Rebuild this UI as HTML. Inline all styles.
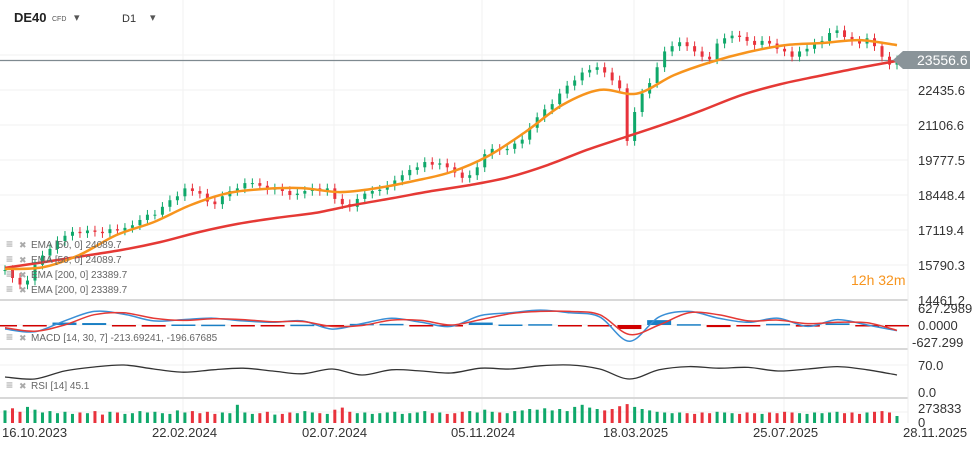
<!DOCTYPE html>
<html><head><meta charset="utf-8">
<style>
body{margin:0;background:#fff;font-family:"Liberation Sans",sans-serif;}
#wrap{position:relative;width:977px;height:449px;overflow:hidden;background:#fff;}
svg text{font-family:"Liberation Sans",sans-serif;}
</style></head>
<body>
<div id="wrap">
<svg id="chart" width="977" height="449"></svg>
</div>
<script>
// ---- data ----
const closes=[15600,15300,15050,15200,15800,16150,16400,16700,16900,17050,
17000,17100,17050,17000,17150,17100,17200,17300,17500,17700,
17700,18000,18250,18400,18700,18600,18500,18200,18100,18400,
18600,18700,18900,18900,18800,18650,18700,18600,18450,18500,
18600,18700,18600,18700,18300,18100,18000,18300,18500,18600,
18650,18800,19000,19200,19400,19500,19700,19600,19650,19500,
19300,19100,19200,19500,20000,20200,20150,20200,20400,20550,
21000,21400,21700,21900,22300,22600,22800,23100,23200,23300,
23100,22800,22500,20500,21600,22300,22700,23300,23900,24100,
24250,24100,23900,23700,23600,24200,24400,24500,24450,24300,
24150,24300,24200,24000,23900,23700,23900,24000,24200,24300,
24600,24700,24450,24300,24200,24400,24100,23700,23400,23560];
const ema50=[15640,15700,16170,16930,17420,18070,18520,18680,18710,18560,18710,18980,19320,19930,20840,21870,22440,22300,23000,23500,23880,24140,24220,24330,24140];
const ema200=[15680,15900,16130,16360,16660,17040,17350,17580,17770,18070,18330,18600,18830,19130,19590,20160,20650,21140,21680,22250,22660,22970,23270,23540];
const macd=[-150,-250,150,500,400,150,200,250,150,100,150,-150,50,250,100,-50,350,450,550,450,300,-600,300,500,250,100,250,-50,200,0,-210];
const signal=[-100,-230,0,380,450,250,170,230,200,120,130,-50,-20,180,170,0,200,420,500,500,380,-350,0,450,380,150,180,50,100,80,-197];
const rsi=[40,35,55,65,70,60,52,58,62,55,48,60,45,58,55,50,62,60,68,70,60,35,58,66,62,64,55,60,66,58,45];
const volume=[180,210,160,230,190,150,170,140,160,130,150,140,170,120,160,150,130,140,170,150,
160,140,130,180,150,170,140,160,130,150,140,260,150,130,140,160,120,130,150,140,
170,150,140,130,190,220,160,140,150,130,140,150,160,130,140,150,170,140,150,130,
140,160,170,150,190,160,150,140,170,180,200,190,210,180,200,170,230,260,220,200,
180,200,240,270,230,200,180,160,150,140,150,140,130,150,140,160,150,140,130,150,
140,130,150,140,160,150,140,130,150,140,150,160,140,150,130,150,160,170,150,100];
const priceTicks=[23764.7,22435.6,21106.6,19777.5,18448.4,17119.4,15790.3,14461.2];
const dateTicks=["16.10.2023","22.02.2024","02.07.2024","05.11.2024","18.03.2025","25.07.2025","28.11.2025"];
const macdTicks=["627.2989","0.0000","-627.299"];
const rsiTicks=["70.0","0.0"];
const lastPrice=23556.6;

const NS="http://www.w3.org/2000/svg";
const svg=document.getElementById('chart');
function el(tag,attrs,parent){const e=document.createElementNS(NS,tag);for(const k in attrs)e.setAttribute(k,attrs[k]);(parent||svg).appendChild(e);return e;}
const X0=5,X1=897;
const xi=(i,n)=>X0+(X1-X0)*i/(n-1);
const yP=p=>90-(p-22435.6)/1329.07*35;
const yM=v=>325-v*17/627.3;
const yR=v=>393-v*28/70;
const yV=v=>423-v*21/300;

// grid
const grid=el('g',{});

priceTicks.forEach(p=>el('line',{x1:0,x2:908,y1:yP(p),y2:yP(p),stroke:'#f0f0f0'},grid));
[183,334,482,634,784].forEach(x=>el('line',{x1:x,x2:x,y1:0,y2:423,stroke:'#f2f2f2'},grid));
[300,349,398].forEach(y=>el('line',{x1:0,x2:908,y1:y,y2:y,stroke:'#d8d8d8','stroke-width':2},grid));
el('line',{x1:908,x2:908,y1:0,y2:423,stroke:'#eeeeee'},grid);
[325,365,412].forEach(y=>el('line',{x1:0,x2:908,y1:y,y2:y,stroke:'#f0f0f0'},grid));

// last price line
const lp=el('line',{x1:0,x2:900,y1:yP(lastPrice),y2:yP(lastPrice),stroke:'#7f8a90','stroke-width':1.2});


// candles
const cg=el('g',{});

closes.forEach((c,i)=>{
  const o=i?closes[i-1]:c;const x=xi(i,closes.length);
  const up=c>=o;const col=up?'#0fa86a':'#e8323c';
  const hi=Math.max(o,c)+180,lo=Math.min(o,c)-180;
  el('line',{x1:x,x2:x,y1:yP(hi),y2:yP(lo),stroke:col,'stroke-width':1},cg);
  const r=el('rect',{x:x-1.5,y:yP(Math.max(o,c)),width:3,height:Math.max(1,Math.abs(yP(o)-yP(c))),fill:col},cg);
  
  
});

function smoothPath(arr,fx,fy){
  const P=arr.map((v,i)=>[fx(i,arr.length),fy(v)]);
  let d='M'+P[0][0]+','+P[0][1];
  for(let i=0;i<P.length-1;i++){
    const p0=P[i-1]||P[i],p1=P[i],p2=P[i+1],p3=P[i+2]||p2;
    const c1=[p1[0]+(p2[0]-p0[0])/6,p1[1]+(p2[1]-p0[1])/6];
    const c2=[p2[0]-(p3[0]-p1[0])/6,p2[1]-(p3[1]-p1[1])/6];
    d+=' C'+c1[0].toFixed(1)+','+c1[1].toFixed(1)+' '+c2[0].toFixed(1)+','+c2[1].toFixed(1)+' '+p2[0].toFixed(1)+','+p2[1].toFixed(1);
  }
  return d;
}
function curve(arr,fx,fy,attrs,name){
  const p=el('path',Object.assign({d:smoothPath(arr,fx,fy),fill:'none'},attrs));
  return p;
}
curve(ema200,xi,yP,{stroke:'#e53935','stroke-width':2.5},'ema-200-line');
curve(ema50,xi,yP,{stroke:'#f7941d','stroke-width':2.5},'ema-50-line');

// MACD histogram
const hg=el('g',{});
macd.forEach((m,i)=>{const d=(m-signal[i])*0.6;const x=xi(i,macd.length);
  const y0=yM(0),y1=yM(d);
  const r=el('rect',{x:x-12,y:Math.min(y0,y1),width:24,height:Math.max(1.5,Math.abs(y1-y0)),fill:d>=0?'#1a7fc4':'#d10000'},hg);
  
  
});
curve(macd,xi,yM,{stroke:'#3a8fd6','stroke-width':1.5},'macd-line');
curve(signal,xi,yM,{stroke:'#e53935','stroke-width':1.5},'signal-line');
curve(rsi,xi,yR,{stroke:'#333','stroke-width':1.3},'rsi-line');

// volume
const vg=el('g',{});
volume.forEach((v,i)=>{const x=xi(i,volume.length);const up=i===0||closes[i]>=closes[i-1];
  const r=el('rect',{x:x-1.5,y:yV(v),width:3,height:423-yV(v),fill:up?'#0fa86a':'#e8323c'},vg);
  
  
});

// axes labels
function txt(x,y,s,attrs,name,inter){const t=el('text',Object.assign({x:x,y:y,'font-size':13,fill:'#333'},attrs||{}));t.textContent=s;
  return t;}
priceTicks.forEach(p=>txt(918,yP(p)+5,p.toFixed(1),{},'price-tick'));
dateTicks.forEach((d,i)=>txt([2,152,302,451,603,753,903][i],437,d,{},'date-tick'));
txt(918,313,macdTicks[0],{},'macd-tick');txt(918,330,macdTicks[1],{},'macd-tick');txt(912,347,macdTicks[2],{},'macd-tick');
txt(918,370,rsiTicks[0],{},'rsi-tick');txt(918,397,rsiTicks[1],{},'rsi-tick');
txt(918,413,'273833',{},'volume-tick');txt(918,427,'0',{},'volume-tick');

// last price tag
const tag=el('path',{d:'M893,60 L903,51 L970,51 L970,69 L903,69 Z',fill:'#8a9499'});

txt(917,65,'23556.6',{fill:'#fff','font-size':14},'last-price-label');

// header
txt(14,22,'DE40',{'font-weight':'bold','font-size':13,fill:'#222'},'symbol-name',true);
txt(52,21,'CFD',{'font-size':7,fill:'#555'},'instrument-type');
txt(74,21,'▾',{'font-size':11,fill:'#555'},'symbol-dropdown',true);
txt(122,22,'D1',{'font-size':11,fill:'#333'},'timeframe',true);
txt(150,21,'▾',{'font-size':11,fill:'#555'},'timeframe-dropdown',true);

// legends
const leg=[[248,'EMA  [50,  0]  24089.7'],[263,'EMA  [50,  0]  24089.7'],[278,'EMA  [200,  0]  23389.7'],[293,'EMA  [200,  0]  23389.7'],[341,'MACD  [14,  30,  7]  -213.69241,   -196.67685'],[389,'RSI  [14]  45.1']];
leg.forEach(l=>{txt(6,l[0],'≡',{fill:'#999','font-size':12},'legend-menu-icon',true);
  txt(19,l[0],'✖',{fill:'#aaa','font-size':9},'legend-close-icon',true);
  txt(31,l[0],l[1],{fill:'#666','font-size':10},'legend-entry');});
txt(851,285,'12h 32m',{fill:'#f7941d','font-size':14},'countdown-timer');
</script>
</body></html>
